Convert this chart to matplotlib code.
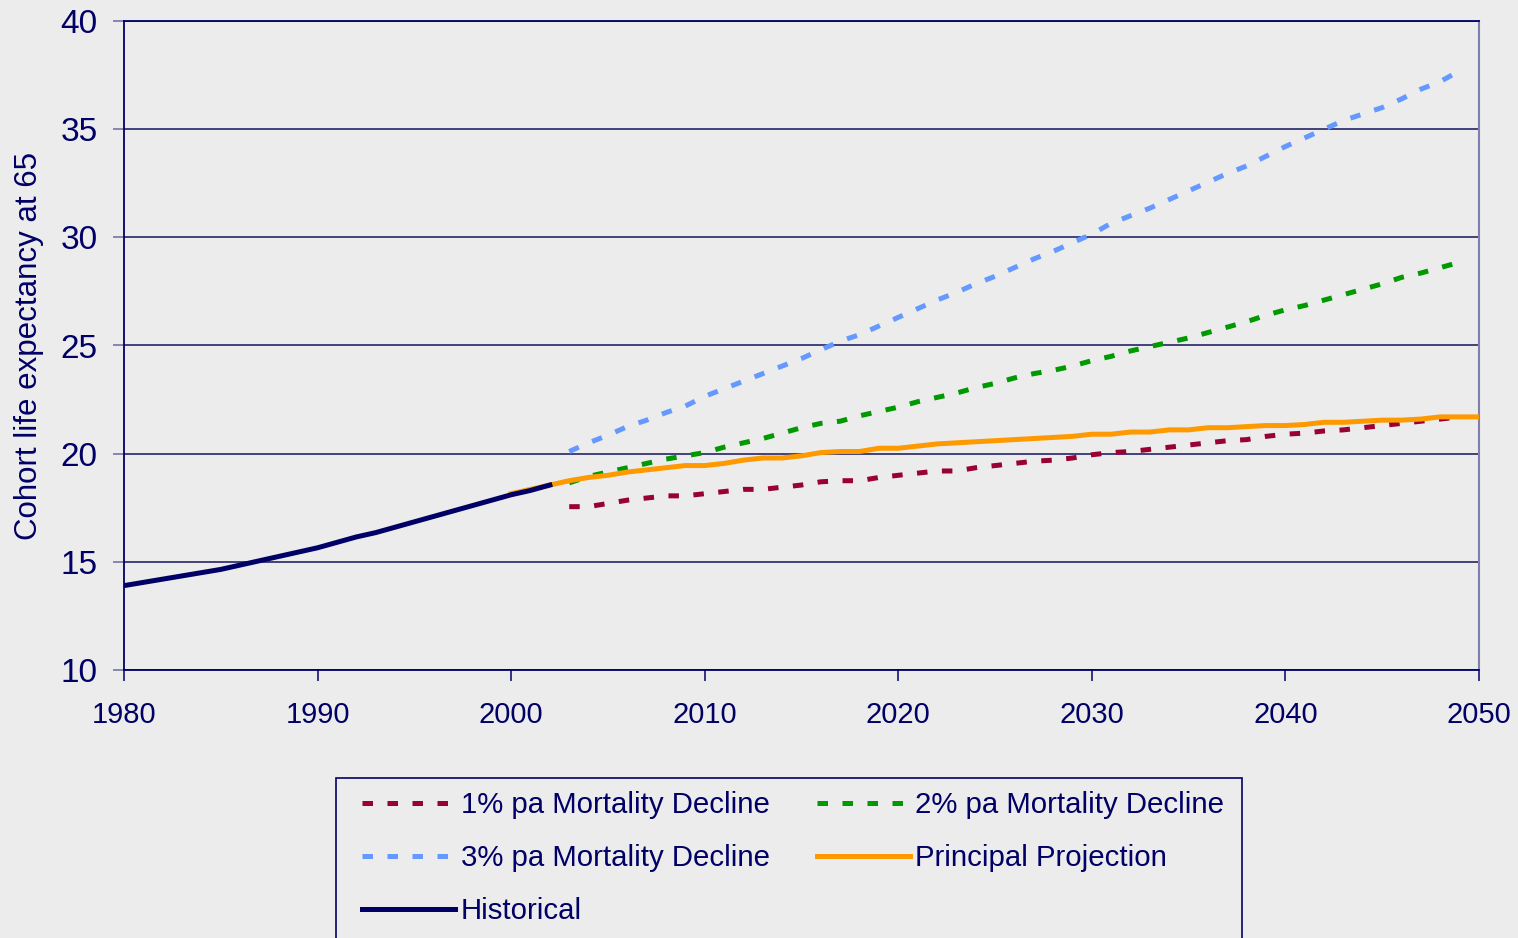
import matplotlib
matplotlib.use("Agg")
import matplotlib.pyplot as plt
from matplotlib.patches import Rectangle

plt.rcParams["font.family"] = ["Liberation Sans", "DejaVu Sans"]

# ---- data ----
hist_years = list(range(1980, 2003))
historical = [13.9, 14.05, 14.2, 14.35, 14.5, 14.65, 14.85, 15.05, 15.25, 15.45,
              15.65, 15.9, 16.15, 16.35, 16.6, 16.85, 17.1, 17.35, 17.6, 17.85,
              18.1, 18.3, 18.55]

princ_years = list(range(2000, 2051))
principal = [18.15, 18.35, 18.55, 18.75, 18.9, 19.0, 19.15, 19.25, 19.35, 19.45,
             19.45, 19.55, 19.7, 19.8, 19.8, 19.9, 20.05, 20.1, 20.1, 20.25,
             20.25, 20.35, 20.45, 20.5, 20.55, 20.6, 20.65, 20.7, 20.75, 20.8,
             20.9, 20.9, 21.0, 21.0, 21.1, 21.1, 21.2, 21.2, 21.25, 21.3,
             21.3, 21.35, 21.45, 21.45, 21.5, 21.55, 21.55, 21.6, 21.7, 21.7,
             21.7]

proj_years = list(range(2003, 2050))
decline_1 = [17.55, 17.55, 17.7, 17.85, 17.95, 18.05, 18.05, 18.15, 18.25, 18.35,
             18.35, 18.45, 18.55, 18.7, 18.75, 18.75, 18.9, 19.0, 19.1, 19.2,
             19.2, 19.35, 19.45, 19.55, 19.65, 19.7, 19.8, 19.95, 20.05, 20.1,
             20.2, 20.3, 20.4, 20.5, 20.6, 20.65, 20.8, 20.9, 20.95, 21.05,
             21.1, 21.2, 21.3, 21.4, 21.5, 21.6, 21.7]
decline_2 = [18.65, 18.95, 19.15, 19.35, 19.55, 19.75, 19.9, 20.05, 20.3, 20.5,
             20.7, 20.95, 21.2, 21.4, 21.5, 21.75, 21.95, 22.15, 22.4, 22.6,
             22.8, 23.05, 23.25, 23.5, 23.7, 23.85, 24.05, 24.3, 24.5, 24.75,
             24.95, 25.15, 25.35, 25.6, 25.85, 26.1, 26.4, 26.65, 26.85, 27.1,
             27.35, 27.6, 27.85, 28.15, 28.35, 28.6, 28.85]
decline_3 = [20.1, 20.5, 20.85, 21.25, 21.55, 21.9, 22.2, 22.65, 23.0, 23.35,
             23.7, 24.05, 24.4, 24.8, 25.2, 25.5, 25.9, 26.3, 26.7, 27.1,
             27.45, 27.85, 28.2, 28.6, 29.0, 29.35, 29.75, 30.15, 30.65, 31.0,
             31.35, 31.75, 32.15, 32.55, 32.95, 33.3, 33.75, 34.2, 34.6, 35.0,
             35.4, 35.7, 36.0, 36.4, 36.85, 37.2, 37.7]

navy = "#000066"
bg = "#ececec"
W, H = 1518, 938

fig = plt.figure(figsize=(W / 100, H / 100), dpi=100, facecolor=bg)
ax = fig.add_axes([124 / W, 1 - 670 / H, 1355 / W, 649 / H], facecolor=bg)

lw = 3.6
dash = (2.1, 2.9)
l1, = ax.plot(proj_years, decline_1, color="#990033", lw=lw, dashes=dash,
              dash_capstyle="butt", label="1% pa Mortality Decline", zorder=3)
l2, = ax.plot(proj_years, decline_2, color="#009900", lw=lw, dashes=dash,
              dash_capstyle="butt", label="2% pa Mortality Decline", zorder=3)
l3, = ax.plot(proj_years, decline_3, color="#6699ff", lw=lw, dashes=dash,
              dash_capstyle="butt", label="3% pa Mortality Decline", zorder=3)
lp, = ax.plot(princ_years, principal, color="#ff9900", lw=lw,
              label="Principal Projection", zorder=4)
lh, = ax.plot(hist_years, historical, color=navy, lw=lw,
              label="Historical", zorder=5)

ax.set_xlim(1980, 2050)
ax.set_ylim(10, 40)
ax.set_xticks(range(1980, 2051, 10))
ax.set_yticks(range(10, 41, 5))
ax.yaxis.grid(True, color="#14145a", lw=1.1)
ax.set_axisbelow(True)

for s in ["left", "bottom", "top"]:
    ax.spines[s].set_color(navy)
    ax.spines[s].set_linewidth(1.3)
ax.spines["right"].set_color("#7f7fb0")
ax.spines["right"].set_linewidth(1.5)

ax.tick_params(axis="y", direction="out", length=8, width=1.1, color="#6a6aa0",
               labelsize=24, labelcolor=navy, pad=11)
ax.tick_params(axis="x", direction="out", length=8, width=1.1, color=navy,
               labelsize=21, labelcolor=navy, pad=14)

ax.set_ylabel("Cohort life expectancy at 65", fontsize=22.5, color=navy)
ax.yaxis.set_label_coords(-0.059, 0.5)

# legend frame runs off the bottom edge, as in the original
fig.patches.append(Rectangle((336 / W, 1 - 945 / H), (1242 - 336) / W, (945 - 778) / H,
                             transform=fig.transFigure, facecolor=bg,
                             edgecolor=navy, lw=1.2, zorder=0))

leg = fig.legend(handles=[l1, l3, lh, l2, lp], ncol=2,
                 loc="upper left", bbox_to_anchor=(362 / W, 1 - 791 / H),
                 fontsize=21.2, frameon=False, handlelength=3.15, handletextpad=0.2,
                 columnspacing=1.6, labelspacing=0.85, borderpad=0,
                 borderaxespad=0)
for t in leg.get_texts():
    t.set_color(navy)

fig.savefig("out.png", dpi=100, facecolor=bg)
